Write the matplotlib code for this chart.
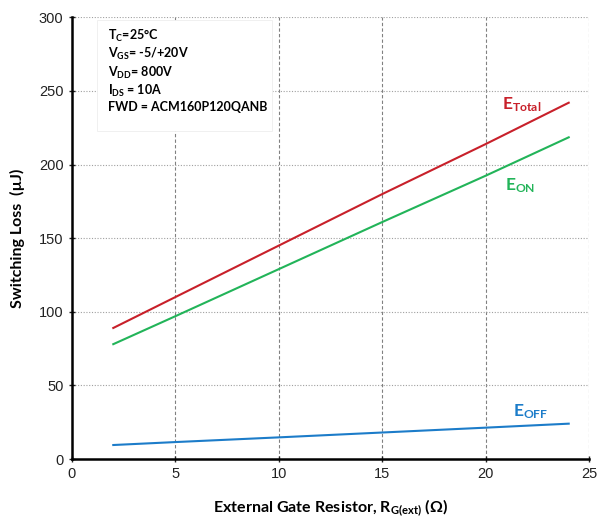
import matplotlib
matplotlib.use('Agg')
import matplotlib.pyplot as plt
from matplotlib.patches import Rectangle

plt.rcParams['font.family'] = ['Liberation Sans', 'DejaVu Sans']
plt.rcParams['mathtext.fontset'] = 'custom'
plt.rcParams['mathtext.rm'] = 'Lato:bold'
plt.rcParams['mathtext.it'] = 'Lato:bold'
plt.rcParams['mathtext.bf'] = 'Lato:bold'

# gate resistance (ohm) and switching losses (uJ)
rg = [2, 5, 10, 15, 20, 24]
e_total = [89, 110, 145, 180, 214, 242]
e_on = [78, 97, 129, 161, 192.5, 218.5]
e_off = [9.5, 11.5, 14.7, 18, 21.3, 24]

red = '#C8202A'
green = '#22B459'
blue = '#1C7CC9'

fig = plt.figure(figsize=(5.99, 5.19), dpi=100)
ax = fig.add_axes([0.120, 0.1156, 0.864, 0.851])

ax.plot(rg, e_total, color=red, lw=1.5)
ax.plot(rg, e_on, color=green, lw=1.5)
ax.plot(rg, e_off, color=blue, lw=1.5)

ax.set_xlim(0, 25)
ax.set_ylim(0, 300)
ax.set_xticks([0, 5, 10, 15, 20, 25])
ax.set_yticks([0, 50, 100, 150, 200, 250, 300])

for x in [5, 10, 15, 20, 25]:
    ax.axvline(x, color='#808080', lw=0.8, ls=(0, (3, 2)), zorder=0)
for y in [50, 100, 150, 200, 250, 300]:
    ax.axhline(y, color='#A0A0A0', lw=0.8, ls=(0, (1, 1.5)), zorder=0)

for s in ['top', 'right']:
    ax.spines[s].set_visible(False)
for s in ['left', 'bottom']:
    ax.spines[s].set_linewidth(1.8)
ax.tick_params(direction='inout', length=5, width=1, labelsize=10.5, colors='#222222')

ax.set_xlabel(r'External Gate Resistor, R$_{\mathrm{G(ext)}}$ ($\Omega$)',
              family='Lato', fontweight='bold', fontsize=11.5, labelpad=11)
ax.set_ylabel('Switching Loss  (µJ)', family='Lato', fontweight='bold',
              fontsize=11.5, labelpad=10)

ax.text(20.8, 241, r'E$_{\mathrm{Total}}$', color=red, family='Lato',
        fontweight='bold', fontsize=12.5, ha='left', va='center')
ax.text(20.9, 186, r'E$_{\mathrm{ON}}$', color=green, family='Lato',
        fontweight='bold', fontsize=12.5, ha='left', va='center')
ax.text(21.3, 32, r'E$_{\mathrm{OFF}}$', color=blue, family='Lato',
        fontweight='bold', fontsize=12.5, ha='left', va='center')

# white conditions box
ax.add_patch(Rectangle((1.2, 223), 8.45, 75.5, fc='white', ec='#EEEEEE',
                       lw=0.6, zorder=1))
box = (r'T$_{\mathrm{C}}$=25°C' + '\n' +
       r'V$_{\mathrm{GS}}$= -5/+20V' + '\n' +
       r'V$_{\mathrm{DD}}$= 800V' + '\n' +
       r'I$_{\mathrm{DS}}$ = 10A' + '\n' +
       'FWD = ACM160P120QANB')
ax.text(1.73, 293, box, family='Lato', fontweight='bold', fontsize=9,
        va='top', ha='left', linespacing=1.2, zorder=2)

fig.savefig('out.png', dpi=100)
